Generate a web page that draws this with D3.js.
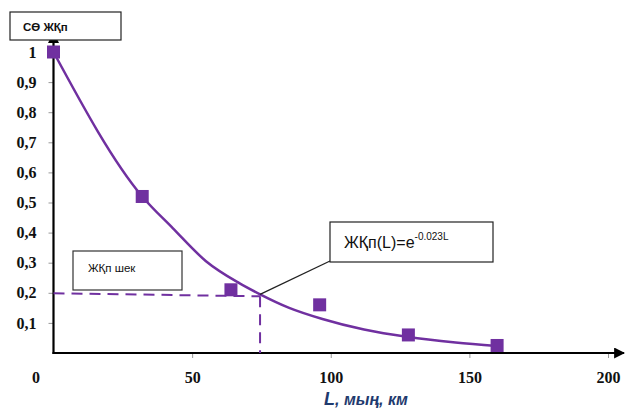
<!DOCTYPE html>
<html lang="kk">
<head>
<meta charset="utf-8">
<title>ЖҚп(L)</title>
<script src="https://d3js.org/d3.v7.min.js"></script>
<style>
  body { margin:0; background:#fff; }
  svg text { font-family: "Liberation Sans", Arial, sans-serif; }
  svg .tick text { font-family: "Liberation Serif", "Times New Roman", serif; font-weight: bold; font-size: 16px; fill: #111; }
</style>
</head>
<body>
<div id="chart"></div>
<script>
// measured points
var mileage = [0, 32, 64, 96, 128, 160]
var reliability = [1, 0.52, 0.21, 0.16, 0.06, 0.025]
// trend curve
var curveL = [0, 32, 43, 55, 67, 74.5, 85, 97, 112, 128, 145, 160]
var curveV = [1, 0.52, 0.415, 0.305, 0.232, 0.195, 0.15, 0.113, 0.078, 0.053, 0.035, 0.023]
var xTicks = [0, 50, 100, 150, 200]
var yTicks = [0.1, 0.2, 0.3, 0.4, 0.5, 0.6, 0.7, 0.8, 0.9, 1]
var limitL = 74.5, limitV = 0.195

var W = 625, H = 410
var purple = "#7030a0"

var svg = d3.select("#chart").append("svg").attr("width", W).attr("height", H)

var x = d3.scaleLinear().domain([0, 200]).range([53.5, 608])
var y = d3.scaleLinear().domain([0, 1]).range([353, 52])

// arrow marker
svg.append("defs").append("marker")
  .attr("id", "arr").attr("viewBox", "0 0 10 10").attr("refX", 9).attr("refY", 5)
  .attr("markerWidth", 5).attr("markerHeight", 5).attr("orient", "auto")
  .append("path").attr("d", "M0,0L10,5L0,10z").attr("fill", "#000")

function styleTicks(g){
  g.select(".domain").remove()
  g.selectAll(".tick line").attr("stroke", "#999")
}

// y axis
var yAxis = svg.append("g").attr("transform", "translate(" + x(0) + ",0)")
  .call(d3.axisLeft(y).tickValues(yTicks).tickSize(5).tickPadding(12)
    .tickFormat(function(d){ return d == 1 ? "1" : d3.format(".1f")(d).replace(".", ",") }))
styleTicks(yAxis)

// x axis
var xAxis = svg.append("g").attr("transform", "translate(0," + y(0) + ")")
  .call(d3.axisBottom(x).tickValues(xTicks).tickSize(5).tickPadding(14))
styleTicks(xAxis)
xAxis.selectAll(".tick").filter(function(d){ return d == 0 }).select("text").attr("dx", -18)
xAxis.selectAll(".tick").filter(function(d){ return d == 0 }).select("line").remove()

svg.append("line").attr("x1", x(0)).attr("x2", x(0)).attr("y1", y(0) + 1).attr("y2", 33)
  .attr("stroke", "#000").attr("stroke-width", 2.2).attr("marker-end", "url(#arr)")
svg.append("line").attr("x1", x(0) - 1).attr("x2", 624).attr("y1", y(0)).attr("y2", y(0))
  .attr("stroke", "#000").attr("stroke-width", 2.2).attr("marker-end", "url(#arr)")

// dashed limit lines
svg.append("line").attr("x1", x(0)).attr("x2", x(limitL)).attr("y1", y(limitV) - 1).attr("y2", y(limitV) + 2)
  .attr("stroke", purple).attr("stroke-width", 2).attr("stroke-dasharray", "11,7")
svg.append("line").attr("x1", x(limitL)).attr("x2", x(limitL)).attr("y1", y(limitV) + 2).attr("y2", y(0))
  .attr("stroke", purple).attr("stroke-width", 2).attr("stroke-dasharray", "11,7")

// trend curve
var curvePts = curveL.map(function(d, i){ return [d, curveV[i]] })
svg.append("path").datum(curvePts)
  .attr("d", d3.line().x(function(d){ return x(d[0]) }).y(function(d){ return y(d[1]) }).curve(d3.curveMonotoneX))
  .attr("fill", "none").attr("stroke", purple).attr("stroke-width", 2.5)

// squares
var s = 13
svg.selectAll(".pt").data(mileage).enter().append("rect").attr("class", "pt")
  .attr("x", function(d){ return x(d) - s / 2 }).attr("y", function(d, i){ return y(reliability[i]) - s / 2 })
  .attr("width", s).attr("height", s).attr("fill", purple)

// callout with formula
svg.append("line").attr("x1", x(limitL)).attr("y1", y(limitV)).attr("x2", 330).attr("y2", 261)
  .attr("stroke", "#222").attr("stroke-width", 1.3)
svg.append("rect").attr("x", 330).attr("y", 222).attr("width", 163).attr("height", 40)
  .attr("fill", "#fff").attr("stroke", "#222").attr("stroke-width", 1.2)
var ft = svg.append("text").attr("x", 344).attr("y", 248).attr("font-size", 16).attr("fill", "#111")
ft.append("tspan").text("ЖҚп(L)=e")
ft.append("tspan").attr("dy", -8).attr("font-size", 10).text("-0.023L")

// limit label box
svg.append("rect").attr("x", 73).attr("y", 251).attr("width", 109).attr("height", 39)
  .attr("fill", "#fff").attr("stroke", "#333").attr("stroke-width", 1.2)
svg.append("text").attr("x", 88).attr("y", 272).attr("font-size", 11.5).attr("fill", "#111").text("ЖҚп шек")

// y label box
svg.append("rect").attr("x", 10).attr("y", 12).attr("width", 111).attr("height", 28)
  .attr("fill", "#fff").attr("stroke", "#222").attr("stroke-width", 1.2)
svg.append("text").attr("x", 23).attr("y", 31).attr("font-size", 11.5).attr("font-weight", "bold")
  .attr("fill", "#111").text("СӨ ЖҚп")

// x axis title
var xt = svg.append("text").attr("x", 324).attr("y", 405).attr("font-size", 16)
  .attr("font-weight", "bold").attr("font-style", "italic").attr("fill", "#1f3a6e")
xt.append("tspan").attr("font-size", 18).text("L")
xt.append("tspan").text(", мың, км")
</script>
</body>
</html>
